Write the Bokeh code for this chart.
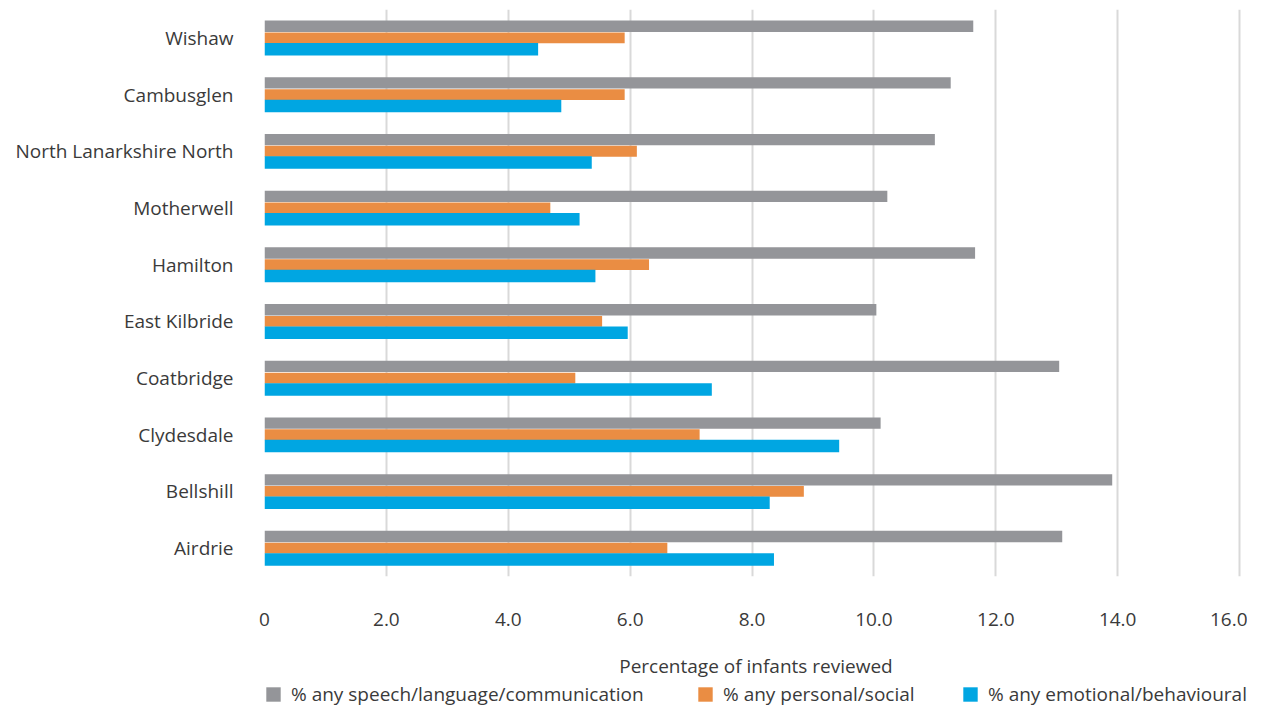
from bokeh.plotting import figure
from bokeh.layouts import column
from bokeh.models import FactorRange, Range1d, FixedTicker, Legend, LegendItem, ColumnDataSource
from bokeh.transform import dodge
from bokeh.embed import file_html
from bokeh.resources import INLINE

# Data (bottom to top)
areas = ["Airdrie", "Bellshill", "Clydesdale", "Coatbridge", "East Kilbride",
         "Hamilton", "Motherwell", "North Lanarkshire North", "Cambusglen", "Wishaw"]
speech = [13.09, 13.91, 10.11, 13.04, 10.04, 11.66, 10.22, 11.00, 11.26, 11.63]
personal = [6.61, 8.85, 7.14, 5.10, 5.54, 6.31, 4.69, 6.11, 5.91, 5.91]
emotional = [8.36, 8.29, 9.43, 7.34, 5.96, 5.43, 5.17, 5.37, 4.87, 4.49]
series_names = ["% any speech/language/communication", "% any personal/social",
                "% any emotional/behavioural"]
tick_values = [0, 2, 4, 6, 8, 10, 12, 14, 16]
tick_labels = ["0", "2.0", "4.0", "6.0", "8.0", "10.0", "12.0", "14.0", "16.0"]
x_title = "Percentage of infants reviewed"

colors = ["#949599", "#EA8D43", "#00A6E2"]
FONT = "Open Sans"
FS = "19px"
TXT = "#3a3a3a"

src = ColumnDataSource(dict(area=areas, speech=speech, personal=personal, emotional=emotional))

# frame runs to the right edge; the 16.0 gridline sits just inside it
p = figure(width=1247, height=682, y_range=FactorRange(*areas), x_range=Range1d(0, 16.13),
           output_backend="svg", toolbar_location=None,
           min_border_left=264, min_border_right=0, min_border_top=9, min_border_bottom=106)
p.outline_line_color = None

p.hbar(y=dodge("area", 0.205, range=p.y_range), right="speech", left=0, height=0.2,
       source=src, color=colors[0], line_color=None)
p.hbar(y=dodge("area", 0.0, range=p.y_range), right="personal", left=0, height=0.19,
       source=src, color=colors[1], line_color=None)
p.hbar(y=dodge("area", -0.2, range=p.y_range), right="emotional", left=0, height=0.22,
       source=src, color=colors[2], line_color=None)

# grid
p.ygrid.grid_line_color = None
p.xgrid.ticker = FixedTicker(ticks=tick_values)
p.xgrid.grid_line_color = "#d9d9d9"
p.xgrid.grid_line_width = 2

# x axis
p.xaxis.ticker = FixedTicker(ticks=tick_values)
p.xaxis.major_label_overrides = {v: l for v, l in zip(tick_values, tick_labels)}
p.xaxis.axis_line_color = None
p.xaxis.major_tick_line_color = None
p.xaxis.minor_tick_line_color = None
p.xaxis.major_label_standoff = 30
p.xaxis.major_label_text_font = FONT
p.xaxis.major_label_text_font_size = FS
p.xaxis.major_label_text_color = TXT
p.xaxis.axis_label = x_title
p.xaxis.axis_label_text_font = FONT
p.xaxis.axis_label_text_font_size = FS
p.xaxis.axis_label_text_font_style = "normal"
p.xaxis.axis_label_text_color = TXT
p.xaxis.axis_label_standoff = 24

# y axis
p.yaxis.axis_line_color = None
p.yaxis.major_tick_line_color = None
p.yaxis.minor_tick_line_color = None
p.yaxis.major_label_standoff = 25
p.yaxis.major_label_text_font = FONT
p.yaxis.major_label_text_font_size = FS
p.yaxis.major_label_text_color = TXT

# legend strip (separate small figure; its frame is aligned with the main frame)
lg = figure(width=1247, height=30, x_range=Range1d(0, 1), y_range=Range1d(0, 1),
            output_backend="svg", toolbar_location=None,
            min_border_left=264, min_border_right=0, min_border_top=0, min_border_bottom=0)
lg.outline_line_color = None
lg.xaxis.visible = False
lg.yaxis.visible = False
lg.grid.visible = False
hidden = ColumnDataSource(dict(y=[-10], right=[-10]))
legend_x = [0, 432, 697]
for name, col, lx in zip(series_names, colors, legend_x):
    r = lg.hbar(y="y", right="right", left=-11, height=0.5, source=hidden, color=col, line_color=None)
    leg = Legend(items=[LegendItem(label=name, renderers=[r])], location=(lx, 5),
                 label_text_font=FONT, label_text_font_size=FS, label_text_color=TXT,
                 glyph_width=18, glyph_height=18, label_standoff=9,
                 padding=0, margin=0, border_line_color=None, background_fill_alpha=0,
                 label_height=20)
    lg.add_layout(leg, "center")

open("out.html", "w").write(file_html(column(p, lg, spacing=0), INLINE))
